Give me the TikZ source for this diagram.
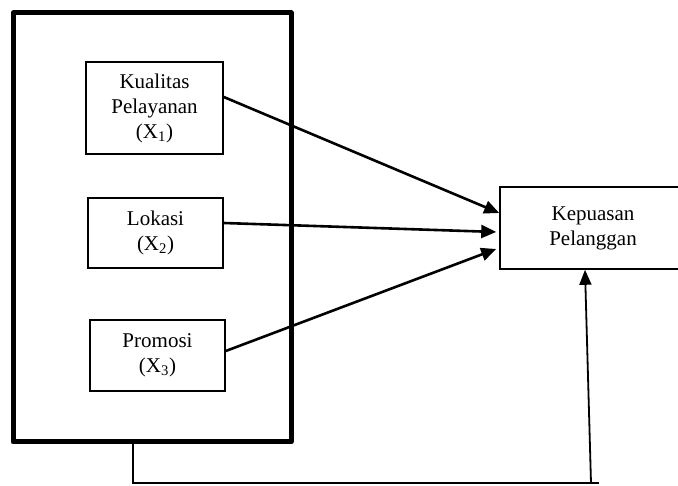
\documentclass[tikz,border=0pt]{standalone}
\usepackage{fontspec}
\setmainfont{Liberation Serif}
\usetikzlibrary{arrows.meta}
\begin{document}
\begin{tikzpicture}[x=1pt,y=-1pt,
  box/.style={draw,line width=1.6pt,inner sep=0pt,align=center,font=\fontsize{21}{25}\selectfont},
  outerbox/.style={draw,line width=5pt,line join=round,inner sep=0pt},
  conn/.style={line width=2.6pt,-{Triangle[length=15pt,width=13pt]}},
  fb/.style={line width=1.8pt}]
\clip (0,0) rectangle (678,486);
\node[outerbox,minimum width=278pt,minimum height=429pt] (outer) at (152,227.5) {};
\node[box,minimum width=137pt,minimum height=92pt] (k) at (154.5,108) {Kualitas\\Pelayanan\\(X\textsubscript{1})};
\node[box,minimum width=135pt,minimum height=70pt] (l) at (155.5,233) {Lokasi\\(X\textsubscript{2})};
\node[box,minimum width=135pt,minimum height=71pt] (p) at (157.5,355.5) {Promosi\\(X\textsubscript{3})};
\node[box,minimum width=186pt,minimum height=82pt] (kep) at (593,228) {Kepuasan\\Pelanggan};
\draw[conn] ([yshift=11pt]k.east) -- ([yshift=15pt]kep.west);
\draw[conn] ([yshift=10pt]l.east) -- ([yshift=-4pt,xshift=-3pt]kep.west);
\draw[conn] ([yshift=4.5pt]p.east) -- ([yshift=-21pt,xshift=-3pt]kep.west);
\coordinate (b1) at (133,483);
\coordinate (b2) at (591,483);
\coordinate (b3) at (599,483);
\draw[fb] (outer.south -| b1) -- (b1) -- (b3);
\draw[fb,-{Triangle[length=15pt,width=12pt]}] (b2) -- ([xshift=-8pt]kep.south);
\end{tikzpicture}
\end{document}
